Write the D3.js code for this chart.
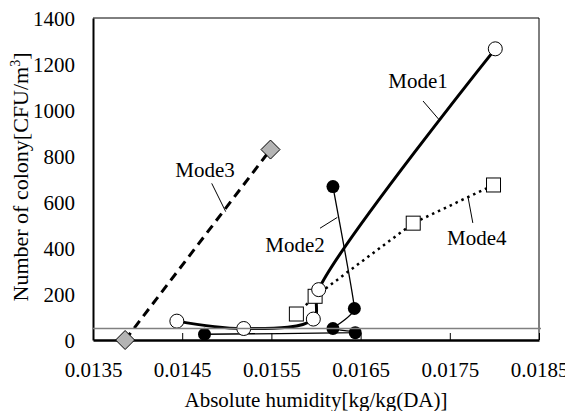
<!DOCTYPE html>
<html>
<head>
<meta charset="utf-8">
<script src="https://cdn.jsdelivr.net/npm/d3@7"></script>
<style>
  body { margin: 0; background: #fff; }
</style>
</head>
<body>
<div id="chart"></div>
<script>
// axis ticks
const xTicks = [0.0135, 0.0145, 0.0155, 0.0165, 0.0175, 0.0185];
const yTicks = [0, 200, 400, 600, 800, 1000, 1200, 1400];

// series (absolute humidity, colony count)
const mode1X = [0.01444, 0.01519, 0.01597, 0.01603, 0.01801];
const mode1Y = [82, 50, 91, 219, 1266];
const mode2X = [0.01475, 0.01644, 0.01619, 0.01643, 0.01619];
const mode2Y = [25, 32, 50, 137, 667];
const mode3X = [0.01386, 0.01549];
const mode3Y = [0, 828];
const mode4X = [0.01578, 0.01599, 0.01709, 0.01799];
const mode4Y = [113, 190, 508, 674];
const refLevel = 50;

// labels with leader lines: [name, textX, textY, lineX1, lineY1, lineX2, lineY2]
const labels = [
  ["Mode1", 0.017143, 1096, 0.017200, 1039, 0.017373, 961],
  ["Mode2", 0.015765, 383, 0.016045, 486, 0.016239, 533],
  ["Mode3", 0.014756, 709, 0.014831, 681, 0.014988, 558],
  ["Mode4", 0.017802, 413, 0.017758, 509, 0.017704, 622]
];

const width = 565, height = 411;
const mLeft = 93, mRight = 539, mTop = 18, mBottom = 340;
const font = '"Liberation Serif"';

const svg = d3.select("#chart").append("svg")
  .attr("width", width)
  .attr("height", height);

const x = d3.scaleLinear().domain([0.0135, 0.0185]).range([mLeft, mRight]);
const y = d3.scaleLinear().domain([0, 1400]).range([mBottom, mTop]);

const pts = (xs, ys) => xs.map((v, i) => [v, ys[i]]);

// frame: thin top/right
svg.append("path")
  .attr("d", `M${mLeft},${mTop}H${mRight}V${mBottom}`)
  .attr("fill", "none").attr("stroke", "#000").attr("stroke-width", 1);

// x axis (ticks point inward)
const xAxis = svg.append("g")
  .attr("transform", `translate(0,${mBottom})`)
  .call(d3.axisBottom(x).tickValues(xTicks).tickSizeInner(-7).tickSizeOuter(0)
    .tickFormat(d3.format(".4f")));
xAxis.attr("font-family", null).attr("font-size", null);
xAxis.select(".domain").attr("stroke-width", 2.5);
xAxis.selectAll(".tick line").attr("stroke-width", 1);
xAxis.selectAll("text")
  .attr("font-size", 21)
  .attr("y", 0).attr("dy", null).attr("transform", "translate(0,37)");

// y axis (no visible ticks)
const yAxis = svg.append("g")
  .attr("transform", `translate(${mLeft},0)`)
  .call(d3.axisLeft(y).tickValues(yTicks).tickSize(0).tickPadding(18)
    .tickFormat(d3.format("d")));
yAxis.attr("font-family", null).attr("font-size", null);
yAxis.select(".domain").attr("stroke-width", 2);
yAxis.selectAll("text")
  .attr("font-size", 21)
  .attr("dy", "0.35em");

// axis titles
svg.append("text")
  .attr("x", (mLeft + mRight) / 2).attr("y", 407)
  .attr("text-anchor", "middle").attr("font-size", 21)
  .text("Absolute humidity[kg/kg(DA)]");

const yt = svg.append("text")
  .attr("transform", `translate(28,${(mTop + mBottom) / 2 - 2}) rotate(-90)`)
  .attr("text-anchor", "middle").attr("font-size", 22);
yt.append("tspan").text("Number of colony[CFU/m");
yt.append("tspan").attr("font-size", 14).attr("dy", -8).text("3");
yt.append("tspan").attr("dy", 8).text("]");

const smooth = d3.line().x(d => x(d[0])).y(d => y(d[1])).curve(d3.curveCatmullRom.alpha(0.5));
const tight = d3.line().x(d => x(d[0])).y(d => y(d[1])).curve(d3.curveCardinal.tension(0.7));
const straight = d3.line().x(d => x(d[0])).y(d => y(d[1]));

// Mode3 dashed
svg.append("path")
  .attr("d", straight(pts(mode3X, mode3Y)))
  .attr("fill", "none").attr("stroke", "#000")
  .attr("stroke-width", 3).attr("stroke-dasharray", "9,6");

// Mode4 dotted
svg.append("path")
  .attr("d", straight(pts(mode4X, mode4Y)))
  .attr("fill", "none").attr("stroke", "#000")
  .attr("stroke-width", 2.5).attr("stroke-dasharray", "2.5,4");

// Mode2 thin
svg.append("path")
  .attr("d", tight(pts(mode2X, mode2Y)))
  .attr("fill", "none").attr("stroke", "#000").attr("stroke-width", 1.3);

// Mode1 thick
svg.append("path")
  .attr("d", smooth(pts(mode1X, mode1Y)))
  .attr("fill", "none").attr("stroke", "#000").attr("stroke-width", 3);

// markers
svg.append("g").selectAll("path")
  .data(pts(mode3X, mode3Y))
  .join("path")
  .attr("d", d => {
    const cx = x(d[0]), cy = y(d[1]), r = 9.5;
    return `M${cx},${cy - r}L${cx + r},${cy}L${cx},${cy + r}L${cx - r},${cy}Z`;
  })
  .attr("fill", "#b4b4b4").attr("stroke", "#000").attr("stroke-width", 1);

svg.append("g").selectAll("rect")
  .data(pts(mode4X, mode4Y))
  .join("rect")
  .attr("x", d => x(d[0]) - 7).attr("y", d => y(d[1]) - 7)
  .attr("width", 14).attr("height", 14)
  .attr("fill", "#fff").attr("stroke", "#000").attr("stroke-width", 1);

svg.append("g").selectAll("circle")
  .data(pts(mode2X, mode2Y))
  .join("circle")
  .attr("cx", d => x(d[0])).attr("cy", d => y(d[1])).attr("r", 6.5)
  .attr("fill", "#000");

svg.append("g").selectAll("circle")
  .data(pts(mode1X, mode1Y))
  .join("circle")
  .attr("cx", d => x(d[0])).attr("cy", d => y(d[1])).attr("r", 7)
  .attr("fill", "#fff").attr("stroke", "#000").attr("stroke-width", 1);

// reference line at 50
svg.append("line")
  .attr("x1", mLeft).attr("x2", mRight + 2)
  .attr("y1", y(refLevel)).attr("y2", y(refLevel))
  .attr("stroke", "#808080").attr("stroke-width", 1.5);

// labels and leaders
const lab = svg.append("g").selectAll("g").data(labels).join("g");
lab.append("line")
  .attr("x1", d => x(d[3])).attr("y1", d => y(d[4]))
  .attr("x2", d => x(d[5])).attr("y2", d => y(d[6]))
  .attr("stroke", "#000").attr("stroke-width", 1);
lab.append("text")
  .attr("x", d => x(d[1])).attr("y", d => y(d[2]))
  .attr("text-anchor", "middle").attr("font-size", 21)
  .text(d => d[0]);

// serif everywhere
svg.selectAll("text").style("font-family", font).attr("fill", "#000");
</script>
</body>
</html>
